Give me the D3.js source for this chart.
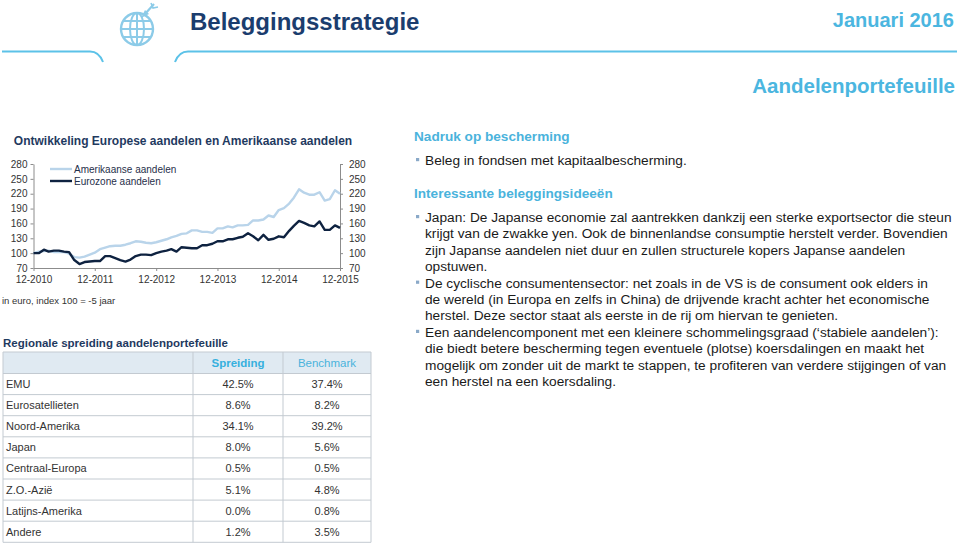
<!DOCTYPE html>
<html><head><meta charset="utf-8">
<script src="https://cdn.jsdelivr.net/npm/d3@7/dist/d3.min.js"></script>
<style>
body{margin:0;background:#fff}
svg{display:block;font-family:Arial,"Liberation Sans",Helvetica,sans-serif}
</style>
</head><body>
<svg id="c" width="959" height="544"></svg>
<script>
// ---------- data ----------
const startMonth = "2010-12";
const usValues = [100,103,104,105,102,102,102,99,92,91,
  93,97,101,108,111,114,115,115,117,120,
  124,123,121,120,122,125,128,132,135,139,
  140,146,146,143,143,141,150,150,154,152,
  156,156,157,166,166,168,176,173,187,191,
  200,212,229,222,218,218,223,206,209,227,220];
const ezValues = [100,100,107,103,105,105,103,102,86,78,
  82,83,84,84,94,94,90,86,83,87,
  94,97,97,96,100,103,105,108,103,112,
  111,110,110,116,116,119,124,124,128,128,
  131,133,140,134,126,137,127,129,134,132,
  145,155,165,161,156,154,164,147,147,156,151];
const seriesNames = ["Amerikaanse aandelen","Eurozone aandelen"];
const yTicks = [70,100,130,160,190,220,250,280];
const xTickLabels = ["12-2010","12-2011","12-2012","12-2013","12-2014","12-2015"];

const regions = ["EMU","Eurosatellieten","Noord-Amerika","Japan","Centraal-Europa","Z.O.-Azië","Latijns-Amerika","Andere"];
const spreiding = ["42.5%","8.6%","34.1%","8.0%","0.5%","5.1%","0.0%","1.2%"];
const benchmark = ["37.4%","8.2%","39.2%","5.6%","0.5%","4.8%","0.8%","3.5%"];
const tableHeaders = ["Spreiding","Benchmark"];

const heading1 = "Nadruk op bescherming";
const bullets1 = [["Beleg in fondsen met kapitaalbescherming."]];
const heading2 = "Interessante beleggingsideeën";
const bullets2 = [
  ["Japan: De Japanse economie zal aantrekken dankzij een sterke exportsector die steun",
   "krijgt van de zwakke yen. Ook de binnenlandse consumptie herstelt verder. Bovendien",
   "zijn Japanse aandelen niet duur en zullen structurele kopers Japanse aandelen",
   "opstuwen."],
  ["De cyclische consumentensector: net zoals in de VS is de consument ook elders in",
   "de wereld (in Europa en zelfs in China) de drijvende kracht achter het economische",
   "herstel. Deze sector staat als eerste in de rij om hiervan te genieten."],
  ["Een aandelencomponent met een kleinere schommelingsgraad (‘stabiele aandelen’):",
   "die biedt betere bescherming tegen eventuele (plotse) koersdalingen en maakt het",
   "mogelijk om zonder uit de markt te stappen, te profiteren van verdere stijgingen of van",
   "een herstel na een koersdaling."]
];

// ---------- colours ----------
const navy = "#1b3d6e", lightBlue = "#4bb6e0", usColor = "#b9d4ea", ezColor = "#0e2240";
const svg = d3.select("#c");

// ---------- header ----------
svg.append("text").attr("x",190).attr("y",30).attr("font-size",24).attr("font-weight","bold")
  .attr("fill",navy).text("Beleggingsstrategie");
svg.append("text").attr("x",954).attr("y",27).attr("text-anchor","end").attr("font-size",20)
  .attr("font-weight","bold").attr("fill",lightBlue).text("Januari 2016");
svg.append("text").attr("x",955).attr("y",93).attr("text-anchor","end").attr("font-size",20.5)
  .attr("font-weight","bold").attr("fill",lightBlue).text("Aandelenportefeuille");
svg.append("path").attr("d","M2,51.5 H90 Q99,51.5 103,62").attr("fill","none").attr("stroke","#5cc2e8").attr("stroke-width",2);
svg.append("path").attr("d","M175,62 Q179,51.5 188,51.5 H957").attr("fill","none").attr("stroke","#5cc2e8").attr("stroke-width",2);

// globe icon
const g0 = svg.append("g").attr("stroke","#8ccbe8").attr("fill","none").attr("stroke-width",2);
const gc = {x:137,y:29,r:16};
svg.append("clipPath").attr("id","gclip").append("circle").attr("cx",gc.x).attr("cy",gc.y).attr("r",gc.r);
const gi = g0.append("g").attr("clip-path","url(#gclip)");
gi.append("ellipse").attr("cx",gc.x).attr("cy",gc.y).attr("rx",7).attr("ry",gc.r);
gi.append("line").attr("x1",gc.x).attr("x2",gc.x).attr("y1",gc.y-gc.r).attr("y2",gc.y+gc.r);
[-8,0,8].forEach(d=>gi.append("line").attr("x1",gc.x-gc.r).attr("x2",gc.x+gc.r).attr("y1",gc.y+d).attr("y2",gc.y+d));
g0.append("circle").attr("cx",gc.x).attr("cy",gc.y).attr("r",gc.r).attr("stroke-width",2.4);
g0.append("line").attr("x1",154).attr("y1",4).attr("x2",145).attr("y2",14).attr("stroke-width",2.2);
g0.append("path").attr("d","M141,18 L149,14 L145,10 Z").attr("fill","#8ccbe8").attr("stroke","none");
g0.append("path").attr("d","M151,3 L153,8 L158,7").attr("stroke-width",1.6);

// ---------- line chart ----------
const parse = d3.timeParse("%Y-%m");
const t0 = parse(startMonth);
const dates = usValues.map((_,i)=>d3.timeMonth.offset(t0,i));
const x = d3.scaleTime().domain([dates[0],dates[dates.length-1]]).range([33.5,340]);
const y = d3.scaleLinear().domain([70,280]).range([268,164]);

svg.append("text").attr("x",183).attr("y",145).attr("text-anchor","middle").attr("font-size",12)
  .attr("font-weight","bold").attr("fill","#1f3a5f").text("Ontwikkeling Europese aandelen en Amerikaanse aandelen");

const axisColor = "#8c8c8c";
function styleAxis(g){
  g.select(".domain").attr("stroke",axisColor);
  g.selectAll(".tick line").attr("stroke",axisColor);
  g.selectAll(".tick text").attr("fill","#333").attr("font-size",10).attr("font-family","Arial, Liberation Sans, sans-serif");
}
svg.append("g").attr("transform","translate(33.5,0)")
  .call(d3.axisLeft(y).tickValues(yTicks).tickSize(3).tickSizeOuter(0).tickPadding(3)).call(styleAxis);
svg.append("g").attr("transform","translate(340,0)")
  .call(d3.axisRight(y).tickValues(yTicks).tickSize(3).tickSizeOuter(0).tickPadding(6)).call(styleAxis);
const xTickDates = xTickLabels.map(s=>{const [m,yv]=s.split("-");return parse(yv+"-"+m);});
svg.append("g").attr("transform","translate(0,268)")
  .call(d3.axisBottom(x).tickValues(xTickDates).tickFormat((d,i)=>xTickLabels[i]).tickSize(3).tickSizeOuter(0).tickPadding(5))
  .call(styleAxis);

const line = d3.line().x((d,i)=>x(dates[i])).y(d=>y(d));
svg.append("path").datum(usValues).attr("d",line).attr("fill","none").attr("stroke",usColor).attr("stroke-width",2.4).attr("stroke-linejoin","round");
svg.append("path").datum(ezValues).attr("d",line).attr("fill","none").attr("stroke",ezColor).attr("stroke-width",2.4).attr("stroke-linejoin","round");

// legend
[usColor,ezColor].forEach((c,i)=>{
  const ly = 169 + i*12;
  svg.append("line").attr("x1",50).attr("x2",72).attr("y1",ly).attr("y2",ly).attr("stroke",c).attr("stroke-width",2.4);
  svg.append("text").attr("x",74).attr("y",ly+3.5).attr("font-size",10).attr("fill","#1f2f4a").text(seriesNames[i]);
});
svg.append("text").attr("x",2).attr("y",304).attr("font-size",9.5).attr("fill","#333").text("in euro, index 100 = -5 jaar");

// ---------- table ----------
svg.append("text").attr("x",3).attr("y",346.5).attr("font-size",11.5).attr("font-weight","bold")
  .attr("fill","#1f3a5f").text("Regionale spreiding aandelenportefeuille");
const colX = [3,193,283,371];
const tTop = 352, hH = 21.5, rH = 21.1;
const tBottom = tTop + hH + rH*regions.length;
const borderC = "#c3cad1";
svg.append("rect").attr("x",colX[0]).attr("y",tTop).attr("width",colX[3]-colX[0]).attr("height",hH).attr("fill","#e0eaf2");
const tg = svg.append("g");
tg.selectAll("line.h").data(d3.range(regions.length+2)).join("line")
  .attr("x1",colX[0]).attr("x2",colX[3])
  .attr("y1",i=> i===0?tTop:tTop+hH+(i-1)*rH).attr("y2",i=> i===0?tTop:tTop+hH+(i-1)*rH)
  .attr("stroke",borderC).attr("stroke-width",1);
tg.selectAll("line.v").data(colX).join("line")
  .attr("x1",d=>d).attr("x2",d=>d).attr("y1",tTop).attr("y2",tBottom).attr("stroke",borderC).attr("stroke-width",1);
tableHeaders.forEach((h,i)=>{
  svg.append("text").attr("x",(colX[i+1]+colX[i+2])/2).attr("y",tTop+hH/2+4).attr("text-anchor","middle")
    .attr("font-size",11.5).attr("font-weight",i===0?"bold":"normal").attr("fill",i===0?"#36b0de":"#4ab3dc").text(h);
});
const rowY = i => tTop + hH + rH*i + rH/2 + 4;
svg.selectAll("text.reg").data(regions).join("text").attr("x",6).attr("y",(d,i)=>rowY(i))
  .attr("font-size",11).attr("fill","#333").text(d=>d);
svg.selectAll("text.sp").data(spreiding).join("text").attr("x",(colX[1]+colX[2])/2).attr("y",(d,i)=>rowY(i))
  .attr("text-anchor","middle").attr("font-size",11).attr("fill","#333").text(d=>d);
svg.selectAll("text.bm").data(benchmark).join("text").attr("x",(colX[2]+colX[3])/2).attr("y",(d,i)=>rowY(i))
  .attr("text-anchor","middle").attr("font-size",11).attr("fill","#333").text(d=>d);

// ---------- right text ----------
const tx = 425, bx = 416, lh = 16.4, fs = 13.7;
function heading(t,yb){
  svg.append("text").attr("x",414).attr("y",yb).attr("font-size",13.6).attr("font-weight","bold")
    .attr("fill","#4ab3dc").text(t);
}
function bulletBlock(blocks,yb){
  let yy = yb;
  blocks.forEach(lines=>{
    svg.append("rect").attr("x",bx).attr("y",yy-7).attr("width",3.2).attr("height",3.2).attr("fill","#8aa9c8");
    lines.forEach(l=>{
      svg.append("text").attr("x",tx).attr("y",yy).attr("font-size",fs).attr("fill","#1a1a1a").text(l);
      yy += lh;
    });
  });
}
heading(heading1,141);
bulletBlock(bullets1,165);
heading(heading2,198);
bulletBlock(bullets2,222);
</script>
</body></html>
